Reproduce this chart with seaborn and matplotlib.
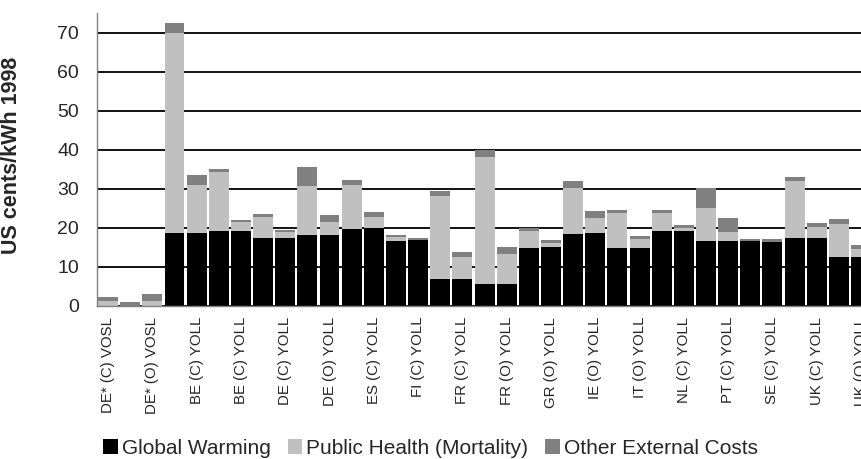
import numpy as np
import pandas as pd
import matplotlib
matplotlib.use("Agg")
import matplotlib.pyplot as plt
import seaborn as sns
from matplotlib.patches import Patch

# External costs per case, US cents/kWh 1998
global_warming = [0.0, 0.0, 0.0, 18.7, 18.7, 19.2, 19.2, 17.4, 17.4, 18.1,
                  18.1, 19.7, 20.0, 16.6, 16.9, 6.8, 6.8, 5.5, 5.5, 14.8,
                  15.1, 18.4, 18.7, 14.8, 14.8, 19.2, 19.2, 16.6, 16.6, 16.6,
                  16.3, 17.4, 17.4, 12.5, 12.5]
public_health = [1.3, 0.0, 1.3, 51.3, 12.3, 15.1, 2.3, 5.4, 1.5, 12.6,
                 3.4, 11.3, 2.8, 1.0, 0.0, 21.4, 5.7, 32.7, 7.8, 4.4,
                 1.0, 11.8, 3.8, 9.0, 2.3, 4.6, 0.7, 8.5, 2.3, 0.0,
                 0.0, 14.6, 2.8, 8.5, 2.1]
other_costs = [1.0, 0.9, 1.7, 2.5, 2.6, 0.8, 0.5, 0.7, 0.5, 4.7,
               1.8, 1.3, 1.3, 0.5, 0.5, 1.3, 1.3, 1.8, 1.8, 0.8,
               0.8, 1.8, 1.8, 0.8, 0.8, 0.8, 0.8, 5.1, 3.6, 0.5,
               0.8, 1.0, 1.0, 1.3, 1.0]

# only every other category is labelled in the original
tick_labels = ["DE* (C) VOSL", "DE* (O) VOSL", "BE (C) YOLL", "BE (C) YOLL",
               "DE (C) YOLL", "DE (O) YOLL", "ES (C) YOLL", "FI (C) YOLL",
               "FR (C) YOLL", "FR (O) YOLL", "GR (O) YOLL", "IE (O) YOLL",
               "IT (O) YOLL", "NL (C) YOLL", "PT (C) YOLL", "SE (C) YOLL",
               "UK (C) YOLL", "UK (O) YOLL"]

series_names = ["Global Warming", "Public Health (Mortality)", "Other External Costs"]
colors = ["#000000", "#c0c0c0", "#808080"]

df = pd.DataFrame({
    "case": np.arange(len(global_warming)),
    "gw": global_warming,
    "ph": public_health,
    "oth": other_costs,
})
df["gw_ph"] = df["gw"] + df["ph"]
df["total"] = df["gw_ph"] + df["oth"]

sns.set_style("white")
plt.rcParams["font.family"] = ["Liberation Sans", "DejaVu Sans"]

fig = plt.figure(figsize=(8.61, 4.59), dpi=100)
ax = fig.add_axes([97 / 861, (459 - 305.6) / 459, (861 - 97) / 861, (305.6 - 13) / 459])

# stacked bars drawn as layers: total, then lower two, then bottom one
for col, color in zip(["total", "gw_ph", "gw"], [colors[2], colors[1], colors[0]]):
    sns.barplot(data=df, x="case", y=col, color=color, saturation=1,
                width=0.9, errorbar=None, linewidth=0, ax=ax)

ax.set_xlim(-0.5, 33.9)
ax.set_ylim(0, 75)
ax.set_yticks(range(0, 71, 10))
ax.set_xticks(range(0, len(global_warming), 2))
ax.set_xticklabels(tick_labels, rotation=90, fontsize=10.8)
ax.tick_params(axis="x", length=0, pad=8)
ax.tick_params(axis="y", length=0, pad=13, labelsize=14)

ax.yaxis.grid(True, color="black", linewidth=1.3)
ax.set_axisbelow(True)
for side in ["top", "right"]:
    ax.spines[side].set_visible(False)
for side in ["left", "bottom"]:
    ax.spines[side].set_color("#808080")
    ax.spines[side].set_linewidth(1)

ax.set_xlabel("")
ax.set_ylabel("US cents/kWh 1998", fontsize=15.5, fontweight="bold")
ax.yaxis.set_label_coords(-0.098, 0.515)

handles = [Patch(facecolor=c, edgecolor="none") for c in colors]
fig.legend(handles, series_names, loc="center", bbox_to_anchor=(0.5, 11 / 459),
           ncol=3, frameon=False, fontsize=15, handlelength=0.7, handleheight=0.7,
           handletextpad=0.2, columnspacing=0.8)

fig.savefig("out.png", dpi=100)
